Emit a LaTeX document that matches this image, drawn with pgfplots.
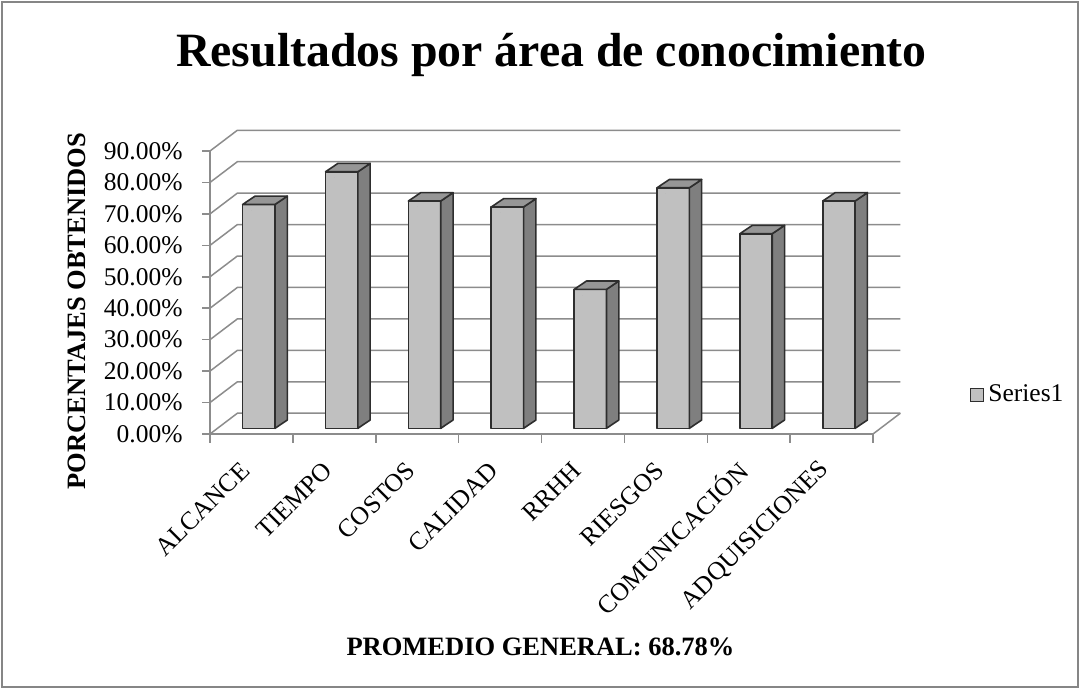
\documentclass[border=0pt]{standalone}
\usepackage{fontspec}
\setmainfont{Liberation Serif}
\usepackage{pgfplots}
\usepackage{pgfplotstable}
\pgfplotsset{compat=1.18}

\definecolor{barfront}{HTML}{C0C0C0}
\definecolor{barside}{HTML}{7F7F7F}
\definecolor{bartop}{HTML}{969696}
\definecolor{baredge}{HTML}{2E2E2E}
\definecolor{wallgray}{HTML}{8C8C8C}
\definecolor{framegray}{HTML}{868686}

\pgfplotstableread{
x v
1 71.2
2 81.6
3 72.3
4 70.4
5 44.2
6 76.5
7 61.9
8 72.3
}\areas

\begin{document}
\begin{tikzpicture}
\useasboundingbox (0,0) rectangle (540pt,344.5pt);
\begin{axis}[
  at={(105pt,127.5pt)}, anchor=south west,
  scale only axis, width=331.5pt, height=141.5pt,
  xmin=0.5, xmax=8.5, ymin=0, ymax=90,
  clip=false,
  axis x line*=bottom, axis y line*=left,
  axis line style={wallgray, line width=0.75pt},
  tick align=outside,
  major tick length=4pt, minor tick length=4.3pt,
  ytick={0,10,...,90},
  yticklabel={\pgfmathprintnumber[fixed,fixed zerofill,precision=2]{\tick}\%},
  /pgf/number format/assume math mode=true,
  y tick style={wallgray, line width=0.75pt},
  xtick={1,...,8},
  xticklabels={ALCANCE,TIEMPO,COSTOS,CALIDAD,RRHH,RIESGOS,COMUNICACIÓN,ADQUISICIONES},
  minor xtick={0.5,1.5,...,8.5},
  major x tick style={draw=none},
  minor x tick style={wallgray, line width=0.75pt},
  tick label style={font=\fontsize{12.75}{15}\selectfont},
  yticklabel style={anchor=east, inner sep=0pt, xshift=-9.5pt},
  xticklabel style={xshift=-3pt, yshift=-12pt, rotate=45, anchor=east, inner sep=0pt},
  title={Resultados por área de conocimiento},
  title style={at={(axis description cs:0.515,1.258)}, anchor=base,
    font=\fontsize{23.9}{28}\selectfont\bfseries},
  ylabel={PORCENTAJES OBTENIDOS},
  ylabel style={at={(axis description cs:-0.2006,0.4346)}, anchor=center,
    font=\fontsize{13.25}{16}\selectfont\bfseries},
  xlabel={PROMEDIO GENERAL: 68.78\%},
  xlabel style={at={(axis description cs:0.4985,-0.7837)}, anchor=base,
    font=\fontsize{13.25}{16}\selectfont\bfseries},
  legend style={draw=none, fill=none, at={(axis description cs:1.146,0.138)},
    anchor=west, inner sep=0pt, font=\fontsize{12.75}{15}\selectfont},
]
% back wall, side wall and floor
\pgfplotsinvokeforeach{0,10,...,90}{
  \draw[wallgray, line width=0.75pt] (axis cs:0.5,#1) -- (axis cs:0.83,{#1+6.6}) -- (axis cs:8.83,{#1+6.6});
}
\draw[wallgray, line width=0.75pt] (axis cs:8.5,0) -- (axis cs:8.83,6.6);

% 3D columns: front, side and top faces drawn at each data point
\addplot[
  scatter, only marks, mark=*, mark size=0pt,
  mark options={draw=none, fill=none},
  visualization depends on={\thisrow{v} \as \bv},
  scatter/@pre marker code/.code={%
    \filldraw[fill=barfront, draw=baredge, line width=0.8pt, line join=round]
      (axis direction cs:-0.106,{1.8-\bv}) rectangle (axis direction cs:0.284,1.8);
    \filldraw[fill=barside, draw=baredge, line width=0.8pt, line join=round]
      (axis direction cs:0.284,{1.8-\bv}) -- (axis direction cs:0.433,{4.45-\bv})
      -- (axis direction cs:0.433,4.45) -- (axis direction cs:0.284,1.8) -- cycle;
    \filldraw[fill=bartop, draw=baredge, line width=0.8pt, line join=round]
      (axis direction cs:-0.106,1.8) -- (axis direction cs:0.043,4.45)
      -- (axis direction cs:0.433,4.45) -- (axis direction cs:0.284,1.8) -- cycle;
  },
  scatter/@post marker code/.code={},
  legend image code/.code={%
    \filldraw[fill=barfront, draw=baredge, line width=0.6pt] (0pt,-3.25pt) rectangle (6.5pt,3.25pt);},
] table[x=x, y=v] {\areas};
\legend{Series1}
\end{axis}
\draw[framegray, line width=0.75pt] (1pt,1pt) rectangle (539pt,343.5pt);
\end{tikzpicture}
\end{document}
